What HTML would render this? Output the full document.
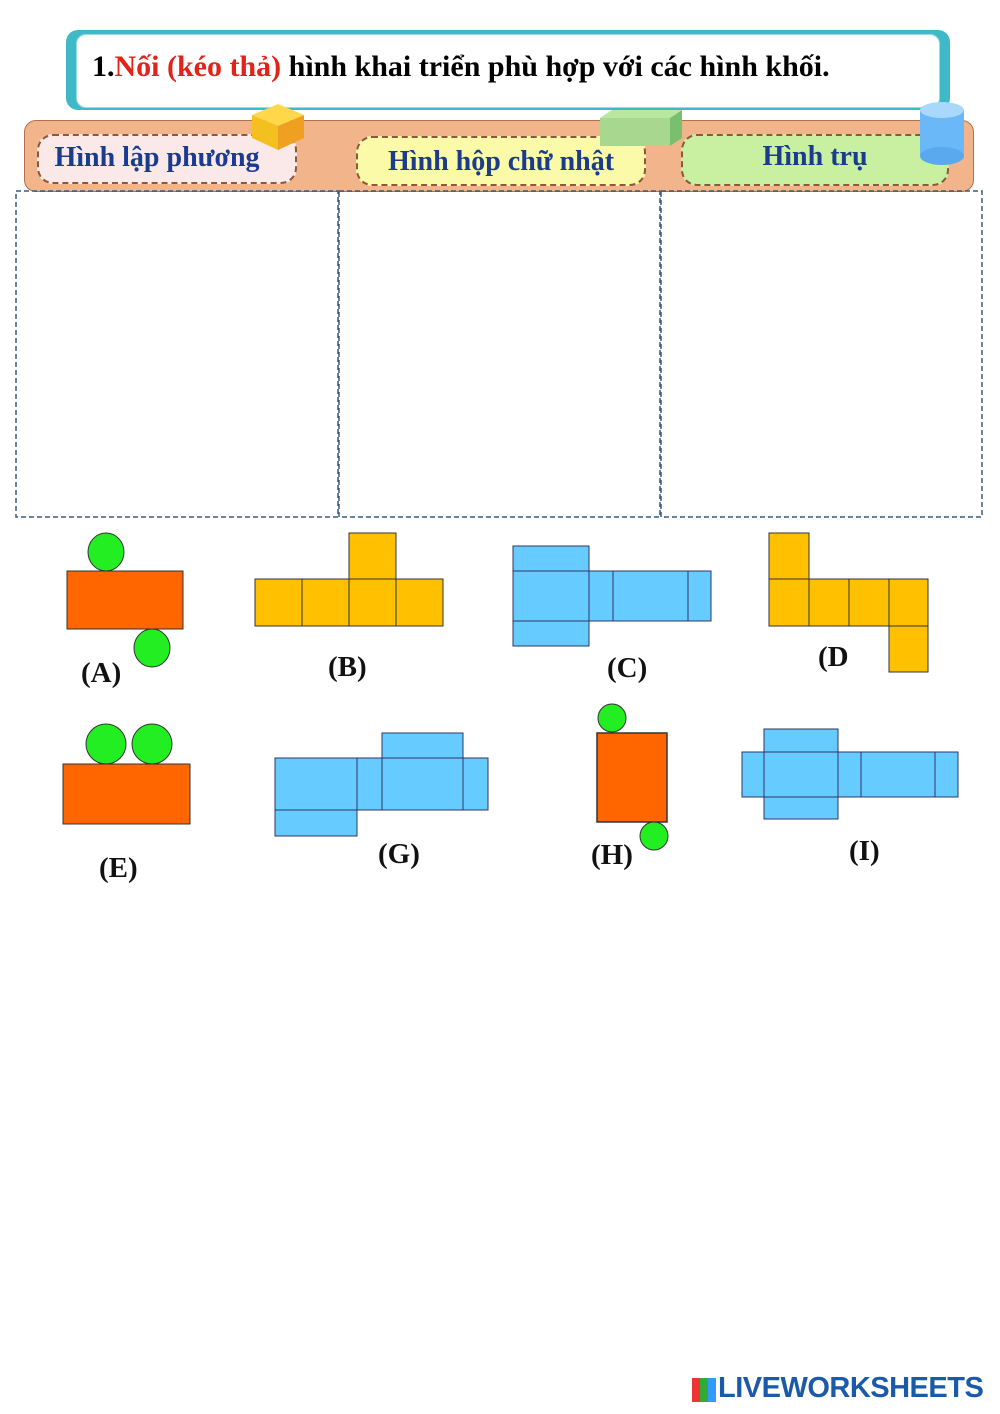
<!DOCTYPE html>
<html><head><meta charset="utf-8"><style>
body{margin:0;width:1000px;height:1414px;background:#fff;position:relative;overflow:hidden;font-family:"Liberation Serif",serif}
.a{position:absolute}
.lab{position:absolute;font-weight:bold;font-size:29px;color:#111}
.pill{position:absolute;border:2px dashed #8a5a3a;border-radius:16px;font-weight:bold;color:#1b3c8c;font-size:28px;text-align:center;line-height:44px;white-space:nowrap}
</style></head><body>
<div class="a" style="left:66px;top:30px;width:884px;height:80px;border-radius:12px;background:#3fb8c8"></div>
<div class="a" style="left:76px;top:34px;width:862px;height:72px;border-radius:10px;background:#fff;border:1px solid #9dd"></div>
<div class="a" style="left:92px;top:50px;font-size:30px;font-weight:bold;white-space:nowrap">1.<span style="color:#e2231a">Nối (kéo thả)</span> hình khai triển phù hợp với các hình khối.</div>
<div class="a" style="left:24px;top:120px;width:948px;height:70px;border-radius:12px;background:#f2b48a;border:1px solid #b07050"></div>
<div class="pill" style="left:37px;top:134px;width:256px;height:46px;background:#fbe9ea;text-indent:-20px">Hình lập phương</div>
<div class="pill" style="left:356px;top:136px;width:286px;height:46px;background:#fafaa8;line-height:48px">Hình hộp chữ nhật</div>
<div class="pill" style="left:681px;top:134px;width:264px;height:48px;background:#c8f0a0;line-height:42px">Hình trụ</div>
<svg class="a" style="left:0;top:0" width="1000" height="1414">
<polygon points="252,115 278,104 304,115 278,126" fill="#ffd84a"/><polygon points="252,115 278,126 278,150 252,138" fill="#f4c020"/><polygon points="278,126 304,115 304,138 278,150" fill="#f0a020"/>
<polygon points="600,118 612,110 682,110 670,118" fill="#b8e8a0"/><rect x="600" y="118" width="70" height="28" fill="#a8d890"/><polygon points="670,118 682,110 682,138 670,146" fill="#78c070"/>
<rect x="920" y="110" width="44" height="46" fill="#6ab8f8"/><ellipse cx="942" cy="156" rx="22" ry="9" fill="#5aa8ee"/><ellipse cx="942" cy="110" rx="22" ry="8" fill="#a8d8fc"/>
<g fill="none" stroke="#3a5a80" stroke-width="1.5" stroke-dasharray="5,3">
<rect x="16" y="191" width="322" height="326"/><rect x="339" y="191" width="321" height="326"/><rect x="661" y="191" width="321" height="326"/></g>
<g stroke="#333" stroke-width="1">
<rect x="67" y="571" width="116" height="58" fill="#ff6600"/>
<ellipse cx="106" cy="552" rx="18" ry="19" fill="#22ee22"/><ellipse cx="152" cy="648" rx="18" ry="19" fill="#22ee22"/>
<g fill="#ffc000"><rect x="255" y="579" width="47" height="47"/><rect x="302" y="579" width="47" height="47"/><rect x="349" y="579" width="47" height="47"/><rect x="396" y="579" width="47" height="47"/><rect x="349" y="533" width="47" height="46"/>
<rect x="769" y="533" width="40" height="46"/><rect x="769" y="579" width="40" height="47"/><rect x="809" y="579" width="40" height="47"/><rect x="849" y="579" width="40" height="47"/><rect x="889" y="579" width="39" height="47"/><rect x="889" y="626" width="39" height="46"/></g>
<g fill="#66ccff" stroke="#336"><rect x="513" y="546" width="76" height="25"/><rect x="513" y="571" width="76" height="50"/><rect x="589" y="571" width="24" height="50"/><rect x="613" y="571" width="75" height="50"/><rect x="688" y="571" width="23" height="50"/><rect x="513" y="621" width="76" height="25"/>
<rect x="275" y="758" width="82" height="52"/><rect x="357" y="758" width="25" height="52"/><rect x="382" y="758" width="81" height="52"/><rect x="463" y="758" width="25" height="52"/><rect x="382" y="733" width="81" height="25"/><rect x="275" y="810" width="82" height="26"/>
<rect x="742" y="752" width="22" height="45"/><rect x="764" y="752" width="74" height="45"/><rect x="838" y="752" width="23" height="45"/><rect x="861" y="752" width="74" height="45"/><rect x="935" y="752" width="23" height="45"/><rect x="764" y="729" width="74" height="23"/><rect x="764" y="797" width="74" height="22"/></g>
<rect x="63" y="764" width="127" height="60" fill="#ff6600"/>
<ellipse cx="106" cy="744" rx="20" ry="20" fill="#22ee22"/><ellipse cx="152" cy="744" rx="20" ry="20" fill="#22ee22"/>
<rect x="597" y="733" width="70" height="89" fill="#ff6600" stroke-width="1.5"/>
<ellipse cx="612" cy="718" rx="14" ry="14" fill="#22ee22"/><ellipse cx="654" cy="836" rx="14" ry="14" fill="#22ee22"/>
</g></svg>
<div class="lab" style="left:81px;top:657px">(A)</div>
<div class="lab" style="left:328px;top:651px">(B)</div>
<div class="lab" style="left:607px;top:652px">(C)</div>
<div class="lab" style="left:818px;top:641px">(D</div>
<div class="lab" style="left:99px;top:852px">(E)</div>
<div class="lab" style="left:378px;top:838px">(G)</div>
<div class="lab" style="left:591px;top:839px">(H)</div>
<div class="lab" style="left:849px;top:835px">(I)</div>
<div class="a" style="left:692px;top:1378px;width:24px;height:24px;background:linear-gradient(90deg,#e33 0 33%,#3a3 33% 66%,#39f 66%)"></div>
<div class="a" style="left:718px;top:1372px;font-family:'Liberation Sans',sans-serif;font-weight:bold;font-size:29px;color:#1a5aa8;letter-spacing:-0.5px">LIVEWORKSHEETS</div>
</body></html>
